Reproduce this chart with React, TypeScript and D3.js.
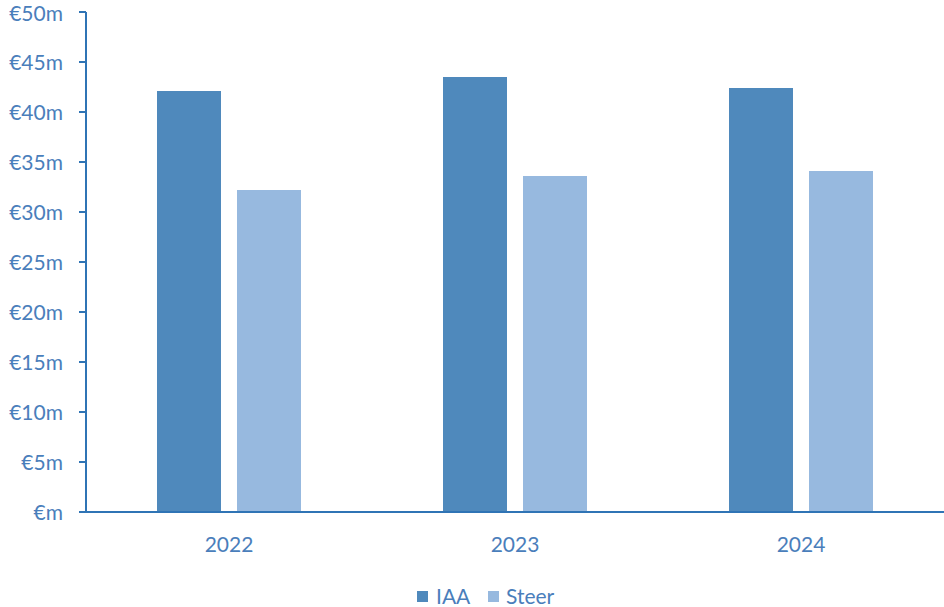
import React from "react";
import * as d3 from "d3";

const categories = ["2022", "2023", "2024"];
const seriesNames = ["IAA", "Steer"];
const iaaValues = [42.1, 43.5, 42.4];
const steerValues = [32.2, 33.6, 34.1];
const yTicks = [0, 5, 10, 15, 20, 25, 30, 35, 40, 45, 50];

const colors: Record<string, string> = { IAA: "#4F89BC", Steer: "#97B9DF" };
const textColor = "#4A7EBB";
const axisColor = "#2F74B5";
const font = "Lato, 'Open Sans', sans-serif";

export default function App() {
  const W = 944, H = 607;
  const left = 86, right = 944, top = 12, bottom = 512;
  const y = d3.scaleLinear().domain([0, 50]).range([bottom, top]);
  const x0 = d3.scaleBand<string>().domain(categories).range([left, right]).padding(0);
  const x1 = d3.scaleBand<string>().domain(seriesNames).range([71, 215]).paddingInner(0.2).paddingOuter(0);
  const values: Record<string, number[]> = { IAA: iaaValues, Steer: steerValues };
  const fs = 21;

  return (
    <svg width={W} height={H} style={{ position: "absolute", left: 0, top: 0, background: "#fff" }}>
      {categories.map((c, i) =>
        seriesNames.map((s) => {
          const v = values[s][i];
          return (
            <rect
              key={c + s}
              x={(x0(c) ?? 0) + (x1(s) ?? 0)}
              y={y(v)}
              width={x1.bandwidth()}
              height={y(0) - y(v)}
              fill={colors[s]}
            />
          );
        })
      )}
      <line x1={left} x2={left} y1={top} y2={bottom} stroke={axisColor} strokeWidth={2} />
      <line x1={left - 7} x2={right} y1={bottom} y2={bottom} stroke={axisColor} strokeWidth={2} />
      {yTicks.map((t) => (
        <g key={t}>
          <line x1={left - 7} x2={left} y1={y(t)} y2={y(t)} stroke={axisColor} strokeWidth={2} />
          <text x={63} y={Math.max(y(t) + 0.36 * fs, fs)} textAnchor="end" fill={textColor} fontFamily={font} fontSize={fs}>
            {t === 0 ? "€m" : `€${t}m`}
          </text>
        </g>
      ))}
      {categories.map((c) => (
        <text key={c} x={(x0(c) ?? 0) + x0.bandwidth() / 2} y={545} dy="0.35em" textAnchor="middle" fill={textColor} fontFamily={font} fontSize={fs}>
          {c}
        </text>
      ))}
      <g>
        <rect x={417} y={591} width={11} height={11} fill={colors.IAA} />
        <text x={436} y={597} dy="0.35em" fill={textColor} fontFamily={font} fontSize={fs}>IAA</text>
        <rect x={488} y={591} width={11} height={11} fill={colors.Steer} />
        <text x={506} y={597} dy="0.35em" fill={textColor} fontFamily={font} fontSize={fs}>Steer</text>
      </g>
    </svg>
  );
}
